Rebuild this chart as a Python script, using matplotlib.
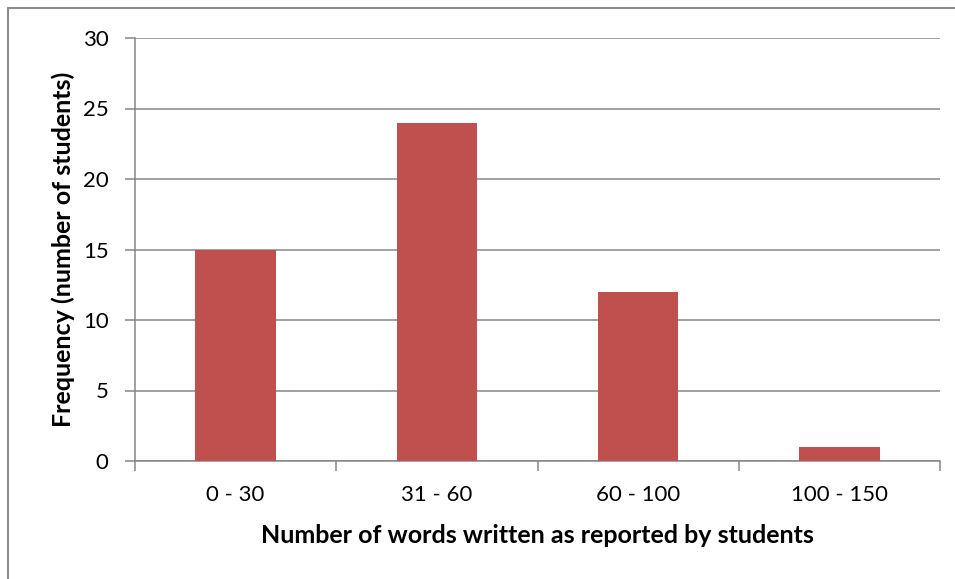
import matplotlib.pyplot as plt
from matplotlib.patches import Rectangle
import numpy as np

plt.rcParams['font.family'] = ['Lato', 'DejaVu Sans']

categories = ["0 - 30", "31 - 60", "60 - 100", "100 - 150"]
frequency = [15, 24, 12, 1]
y_ticks = [0, 5, 10, 15, 20, 25, 30]

fig = plt.figure(figsize=(9.55, 5.79), dpi=100)
ax = fig.add_axes([135 / 955, 1 - 461 / 579, 805 / 955, 423 / 579])

# outer chart frame (left and top edges visible)
fig.patches.append(Rectangle((8 / 955, -0.01), 1.1, 1 - 8 / 579 + 0.01,
                             transform=fig.transFigure, fill=False,
                             edgecolor='#8c8c8c', linewidth=1.5))

x = np.arange(len(categories))
ax.bar(x, frequency, width=0.4, color='#C0504D', zorder=3)

ax.set_xlim(-0.5, len(categories) - 0.5)
ax.set_ylim(0, 30)
ax.set_yticks(y_ticks)
ax.yaxis.grid(True, color='#868686', linewidth=1.1, zorder=0)

# category labels centred, tick marks on the boundaries
ax.set_xticks(x)
ax.set_xticklabels(categories)
ax.tick_params(axis='x', which='major', length=0, pad=17, labelsize=16)
ax.set_xticks(np.arange(-0.5, len(categories)), minor=True)
ax.tick_params(axis='x', which='minor', length=7, width=1.1, color='#868686')
ax.tick_params(axis='y', length=7, width=1.1, color='#868686', pad=12, labelsize=16)

for side in ['top', 'right']:
    ax.spines[side].set_visible(False)
for side in ['left', 'bottom']:
    ax.spines[side].set_color('#868686')
    ax.spines[side].set_linewidth(1.1)

ax.set_xlabel("Number of words written as reported by students",
              fontsize=18, fontweight='bold')
ax.set_ylabel("Frequency (number of students)",
              fontsize=18, fontweight='bold')
ax.xaxis.set_label_coords(0.5, -0.15)
ax.yaxis.set_label_coords(-0.074, 0.5)

fig.savefig("out.png", dpi=100)
